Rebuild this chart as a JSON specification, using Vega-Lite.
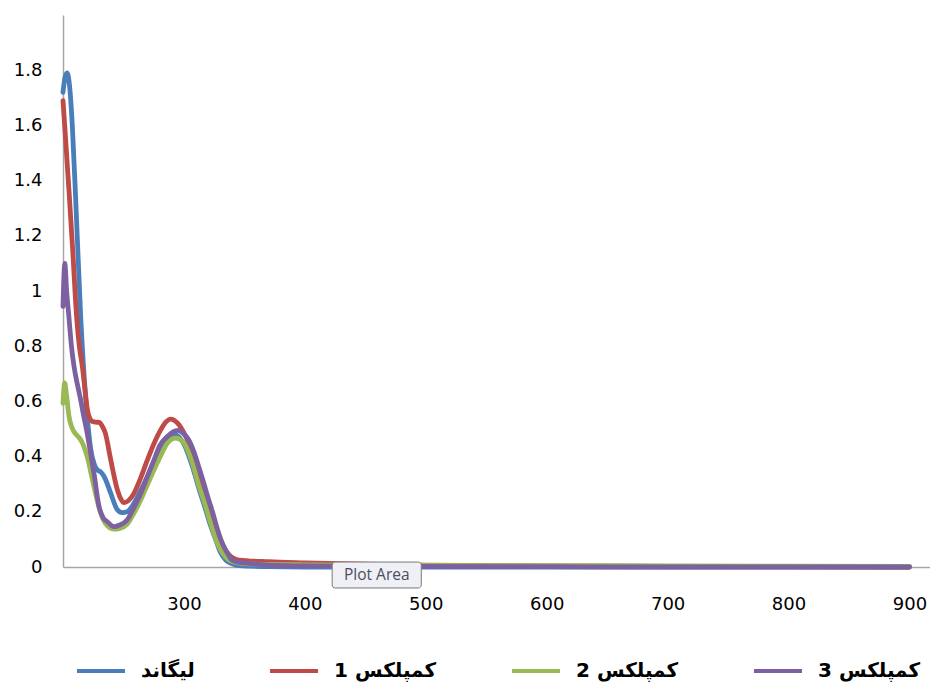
{
  "$schema": "https://vega.github.io/schema/vega-lite/v6.json",
  "width": 867,
  "height": 552,
  "autosize": "none",
  "padding": {"left": 63, "top": 15, "right": 0, "bottom": 115},
  "config": {
    "view": {"stroke": null},
    "axis": {"grid": false, "ticks": false, "tickSize": 0, "domainColor": "#a6a6a6", "domainWidth": 1.5, "labelFont": "DejaVu Sans", "labelFontSize": 18, "labelColor": "#000000", "title": null}
  },
  "datasets": {
    "spectra": [
      {"s": "لیگاند", "x": 200, "y": 1.72}, {"s": "لیگاند", "x": 201.5, "y": 1.77}, {"s": "لیگاند", "x": 203.4, "y": 1.79}, {"s": "لیگاند", "x": 205.5, "y": 1.74}, {"s": "لیگاند", "x": 207.7, "y": 1.6}, {"s": "لیگاند", "x": 210.8, "y": 1.3}, {"s": "لیگاند", "x": 214.6, "y": 0.91}, {"s": "لیگاند", "x": 218.8, "y": 0.61}, {"s": "لیگاند", "x": 221, "y": 0.5}, {"s": "لیگاند", "x": 223, "y": 0.425}, {"s": "لیگاند", "x": 226, "y": 0.37}, {"s": "لیگاند", "x": 228.4, "y": 0.352}, {"s": "لیگاند", "x": 231, "y": 0.345}, {"s": "لیگاند", "x": 234, "y": 0.328}, {"s": "لیگاند", "x": 239.5, "y": 0.267}, {"s": "لیگاند", "x": 245, "y": 0.207}, {"s": "لیگاند", "x": 249, "y": 0.197}, {"s": "لیگاند", "x": 253, "y": 0.2}, {"s": "لیگاند", "x": 258.7, "y": 0.231}, {"s": "لیگاند", "x": 264, "y": 0.275}, {"s": "لیگاند", "x": 269.8, "y": 0.328}, {"s": "لیگاند", "x": 275, "y": 0.38}, {"s": "لیگاند", "x": 280.8, "y": 0.425}, {"s": "لیگاند", "x": 287.7, "y": 0.467}, {"s": "لیگاند", "x": 293.3, "y": 0.479}, {"s": "لیگاند", "x": 300, "y": 0.445}, {"s": "لیگاند", "x": 307, "y": 0.364}, {"s": "لیگاند", "x": 312, "y": 0.29}, {"s": "لیگاند", "x": 318, "y": 0.207}, {"s": "لیگاند", "x": 322, "y": 0.15}, {"s": "لیگاند", "x": 326.4, "y": 0.098}, {"s": "لیگاند", "x": 330, "y": 0.055}, {"s": "لیگاند", "x": 334.6, "y": 0.025}, {"s": "لیگاند", "x": 340, "y": 0.012}, {"s": "لیگاند", "x": 345.7, "y": 0.005}, {"s": "لیگاند", "x": 370, "y": 0.001}, {"s": "لیگاند", "x": 400, "y": 0}, {"s": "لیگاند", "x": 500, "y": 0}, {"s": "لیگاند", "x": 600, "y": 0}, {"s": "لیگاند", "x": 700, "y": 0}, {"s": "لیگاند", "x": 800, "y": 0}, {"s": "لیگاند", "x": 900, "y": 0},

      {"s": "کمپلکس 1", "x": 200, "y": 1.69}, {"s": "کمپلکس 1", "x": 202, "y": 1.56}, {"s": "کمپلکس 1", "x": 205, "y": 1.36}, {"s": "کمپلکس 1", "x": 208, "y": 1.15}, {"s": "کمپلکس 1", "x": 211.2, "y": 0.91}, {"s": "کمپلکس 1", "x": 213.5, "y": 0.8}, {"s": "کمپلکس 1", "x": 216, "y": 0.727}, {"s": "کمپلکس 1", "x": 218, "y": 0.65}, {"s": "کمپلکس 1", "x": 220, "y": 0.575}, {"s": "کمپلکس 1", "x": 222, "y": 0.54}, {"s": "کمپلکس 1", "x": 224, "y": 0.528}, {"s": "کمپلکس 1", "x": 227, "y": 0.525}, {"s": "کمپلکس 1", "x": 230, "y": 0.524}, {"s": "کمپلکس 1", "x": 232.5, "y": 0.51}, {"s": "کمپلکس 1", "x": 235, "y": 0.485}, {"s": "کمپلکس 1", "x": 239.5, "y": 0.388}, {"s": "کمپلکس 1", "x": 245, "y": 0.279}, {"s": "کمپلکس 1", "x": 248, "y": 0.245}, {"s": "کمپلکس 1", "x": 250.5, "y": 0.233}, {"s": "کمپلکس 1", "x": 254, "y": 0.24}, {"s": "کمپلکس 1", "x": 258.7, "y": 0.267}, {"s": "کمپلکس 1", "x": 264, "y": 0.32}, {"s": "کمپلکس 1", "x": 269.8, "y": 0.388}, {"s": "کمپلکس 1", "x": 275, "y": 0.445}, {"s": "کمپلکس 1", "x": 280.8, "y": 0.497}, {"s": "کمپلکس 1", "x": 285, "y": 0.525}, {"s": "کمپلکس 1", "x": 289, "y": 0.536}, {"s": "کمپلکس 1", "x": 295, "y": 0.52}, {"s": "کمپلکس 1", "x": 301.5, "y": 0.473}, {"s": "کمپلکس 1", "x": 305.5, "y": 0.435}, {"s": "کمپلکس 1", "x": 309.8, "y": 0.388}, {"s": "کمپلکس 1", "x": 314, "y": 0.32}, {"s": "کمپلکس 1", "x": 319.4, "y": 0.243}, {"s": "کمپلکس 1", "x": 324, "y": 0.17}, {"s": "کمپلکس 1", "x": 329, "y": 0.11}, {"s": "کمپلکس 1", "x": 333, "y": 0.07}, {"s": "کمپلکس 1", "x": 337.4, "y": 0.044}, {"s": "کمپلکس 1", "x": 345.6, "y": 0.025}, {"s": "کمپلکس 1", "x": 370, "y": 0.019}, {"s": "کمپلکس 1", "x": 400, "y": 0.015}, {"s": "کمپلکس 1", "x": 450, "y": 0.01}, {"s": "کمپلکس 1", "x": 500, "y": 0.007}, {"s": "کمپلکس 1", "x": 600, "y": 0.004}, {"s": "کمپلکس 1", "x": 700, "y": 0.002}, {"s": "کمپلکس 1", "x": 800, "y": 0.001}, {"s": "کمپلکس 1", "x": 900, "y": 0},

      {"s": "کمپلکس 2", "x": 200, "y": 0.594}, {"s": "کمپلکس 2", "x": 201.4, "y": 0.667}, {"s": "کمپلکس 2", "x": 203, "y": 0.62}, {"s": "کمپلکس 2", "x": 205, "y": 0.545}, {"s": "کمپلکس 2", "x": 207, "y": 0.51}, {"s": "کمپلکس 2", "x": 209, "y": 0.491}, {"s": "کمپلکس 2", "x": 212, "y": 0.475}, {"s": "کمپلکس 2", "x": 214.6, "y": 0.461}, {"s": "کمپلکس 2", "x": 217, "y": 0.44}, {"s": "کمپلکس 2", "x": 220, "y": 0.4}, {"s": "کمپلکس 2", "x": 225.6, "y": 0.291}, {"s": "کمپلکس 2", "x": 231.2, "y": 0.195}, {"s": "کمپلکس 2", "x": 236.7, "y": 0.149}, {"s": "کمپلکس 2", "x": 242.2, "y": 0.137}, {"s": "کمپلکس 2", "x": 247, "y": 0.14}, {"s": "کمپلکس 2", "x": 253.2, "y": 0.156}, {"s": "کمپلکس 2", "x": 258, "y": 0.19}, {"s": "کمپلکس 2", "x": 264.3, "y": 0.243}, {"s": "کمپلکس 2", "x": 270, "y": 0.3}, {"s": "کمپلکس 2", "x": 275.3, "y": 0.352}, {"s": "کمپلکس 2", "x": 281, "y": 0.405}, {"s": "کمپلکس 2", "x": 286.3, "y": 0.449}, {"s": "کمپلکس 2", "x": 293.3, "y": 0.467}, {"s": "کمپلکس 2", "x": 299, "y": 0.455}, {"s": "کمپلکس 2", "x": 303, "y": 0.425}, {"s": "کمپلکس 2", "x": 307, "y": 0.376}, {"s": "کمپلکس 2", "x": 312, "y": 0.3}, {"s": "کمپلکس 2", "x": 318, "y": 0.219}, {"s": "کمپلکس 2", "x": 322, "y": 0.16}, {"s": "کمپلکس 2", "x": 327.7, "y": 0.086}, {"s": "کمپلکس 2", "x": 332, "y": 0.05}, {"s": "کمپلکس 2", "x": 337.4, "y": 0.025}, {"s": "کمپلکس 2", "x": 345, "y": 0.015}, {"s": "کمپلکس 2", "x": 354, "y": 0.011}, {"s": "کمپلکس 2", "x": 400, "y": 0.008}, {"s": "کمپلکس 2", "x": 500, "y": 0.006}, {"s": "کمپلکس 2", "x": 600, "y": 0.005}, {"s": "کمپلکس 2", "x": 700, "y": 0.004}, {"s": "کمپلکس 2", "x": 800, "y": 0.003}, {"s": "کمپلکس 2", "x": 900, "y": 0.002},

      {"s": "کمپلکس 3", "x": 200, "y": 0.944}, {"s": "کمپلکس 3", "x": 201.5, "y": 1.1}, {"s": "کمپلکس 3", "x": 203, "y": 1.0}, {"s": "کمپلکس 3", "x": 205, "y": 0.9}, {"s": "کمپلکس 3", "x": 207, "y": 0.8}, {"s": "کمپلکس 3", "x": 209, "y": 0.73}, {"s": "کمپلکس 3", "x": 211.5, "y": 0.67}, {"s": "کمپلکس 3", "x": 214.6, "y": 0.606}, {"s": "کمپلکس 3", "x": 217, "y": 0.55}, {"s": "کمپلکس 3", "x": 220, "y": 0.485}, {"s": "کمپلکس 3", "x": 222.5, "y": 0.42}, {"s": "کمپلکس 3", "x": 225.6, "y": 0.34}, {"s": "کمپلکس 3", "x": 229.8, "y": 0.219}, {"s": "کمپلکس 3", "x": 233, "y": 0.18}, {"s": "کمپلکس 3", "x": 236.7, "y": 0.164}, {"s": "کمپلکس 3", "x": 242.2, "y": 0.146}, {"s": "کمپلکس 3", "x": 247, "y": 0.152}, {"s": "کمپلکس 3", "x": 253, "y": 0.17}, {"s": "کمپلکس 3", "x": 258, "y": 0.21}, {"s": "کمپلکس 3", "x": 264.3, "y": 0.267}, {"s": "کمپلکس 3", "x": 270, "y": 0.33}, {"s": "کمپلکس 3", "x": 275.3, "y": 0.388}, {"s": "کمپلکس 3", "x": 280, "y": 0.44}, {"s": "کمپلکس 3", "x": 286.3, "y": 0.473}, {"s": "کمپلکس 3", "x": 291, "y": 0.49}, {"s": "کمپلکس 3", "x": 295, "y": 0.495}, {"s": "کمپلکس 3", "x": 300, "y": 0.482}, {"s": "کمپلکس 3", "x": 304, "y": 0.46}, {"s": "کمپلکس 3", "x": 308, "y": 0.42}, {"s": "کمپلکس 3", "x": 312.5, "y": 0.36}, {"s": "کمپلکس 3", "x": 316.7, "y": 0.3}, {"s": "کمپلکس 3", "x": 320, "y": 0.25}, {"s": "کمپلکس 3", "x": 323.6, "y": 0.2}, {"s": "کمپلکس 3", "x": 327.5, "y": 0.14}, {"s": "کمپلکس 3", "x": 331.8, "y": 0.086}, {"s": "کمپلکس 3", "x": 336, "y": 0.05}, {"s": "کمپلکس 3", "x": 340, "y": 0.025}, {"s": "کمپلکس 3", "x": 347, "y": 0.016}, {"s": "کمپلکس 3", "x": 354, "y": 0.013}, {"s": "کمپلکس 3", "x": 370, "y": 0.007}, {"s": "کمپلکس 3", "x": 400, "y": 0.004}, {"s": "کمپلکس 3", "x": 500, "y": 0.002}, {"s": "کمپلکس 3", "x": 600, "y": 0.001}, {"s": "کمپلکس 3", "x": 700, "y": 0}, {"s": "کمپلکس 3", "x": 800, "y": 0}, {"s": "کمپلکس 3", "x": 900, "y": 0}
    ],
    "note": [{"label": "Plot Area"}]
  },
  "layer": [
    {
      "data": {"name": "spectra"},
      "mark": {"type": "line", "interpolate": "monotone", "strokeWidth": 4.8, "strokeCap": "round", "strokeJoin": "round"},
      "encoding": {
        "x": {"field": "x", "type": "quantitative", "scale": {"domain": [200, 917], "nice": false, "zero": false},
              "axis": {"values": [300, 400, 500, 600, 700, 800, 900], "labelPadding": 28}},
        "y": {"field": "y", "type": "quantitative", "scale": {"domain": [0, 2], "nice": false},
              "axis": {"values": [0, 0.2, 0.4, 0.6, 0.8, 1, 1.2, 1.4, 1.6, 1.8], "format": "~g", "labelPadding": 21}},
        "color": {"field": "s", "type": "nominal",
          "scale": {"domain": ["لیگاند", "کمپلکس 1", "کمپلکس 2", "کمپلکس 3"], "range": ["#4a7ebb", "#be4b48", "#98b954", "#7d60a0"]},
          "legend": {"orient": "none", "legendX": 12, "legendY": 630, "direction": "horizontal", "columns": 4, "title": null,
            "symbolType": "stroke", "symbolSize": 2304, "symbolStrokeWidth": 4, "labelFont": "DejaVu Sans", "labelFontWeight": "bold",
            "labelFontSize": 20, "labelColor": "#000000", "labelOffset": 14, "columnPadding": 67, "labelLimit": 300}}
      }
    },
    {
      "data": {"name": "note"},
      "mark": {"type": "rect", "fill": "#eef0f6", "stroke": "#7a7a7a", "strokeWidth": 1, "cornerRadius": 3},
      "encoding": {
        "x": {"datum": 422.6, "type": "quantitative"},
        "x2": {"datum": 496.3},
        "y": {"datum": 0.018, "type": "quantitative"},
        "y2": {"datum": -0.076}
      }
    },
    {
      "data": {"name": "note"},
      "mark": {"type": "text", "font": "Open Sans", "fontSize": 15.5, "color": "#4d4d5e", "align": "center", "baseline": "middle"},
      "encoding": {
        "text": {"field": "label"},
        "x": {"datum": 459.5, "type": "quantitative"},
        "y": {"datum": -0.029, "type": "quantitative"}
      }
    }
  ]
}
